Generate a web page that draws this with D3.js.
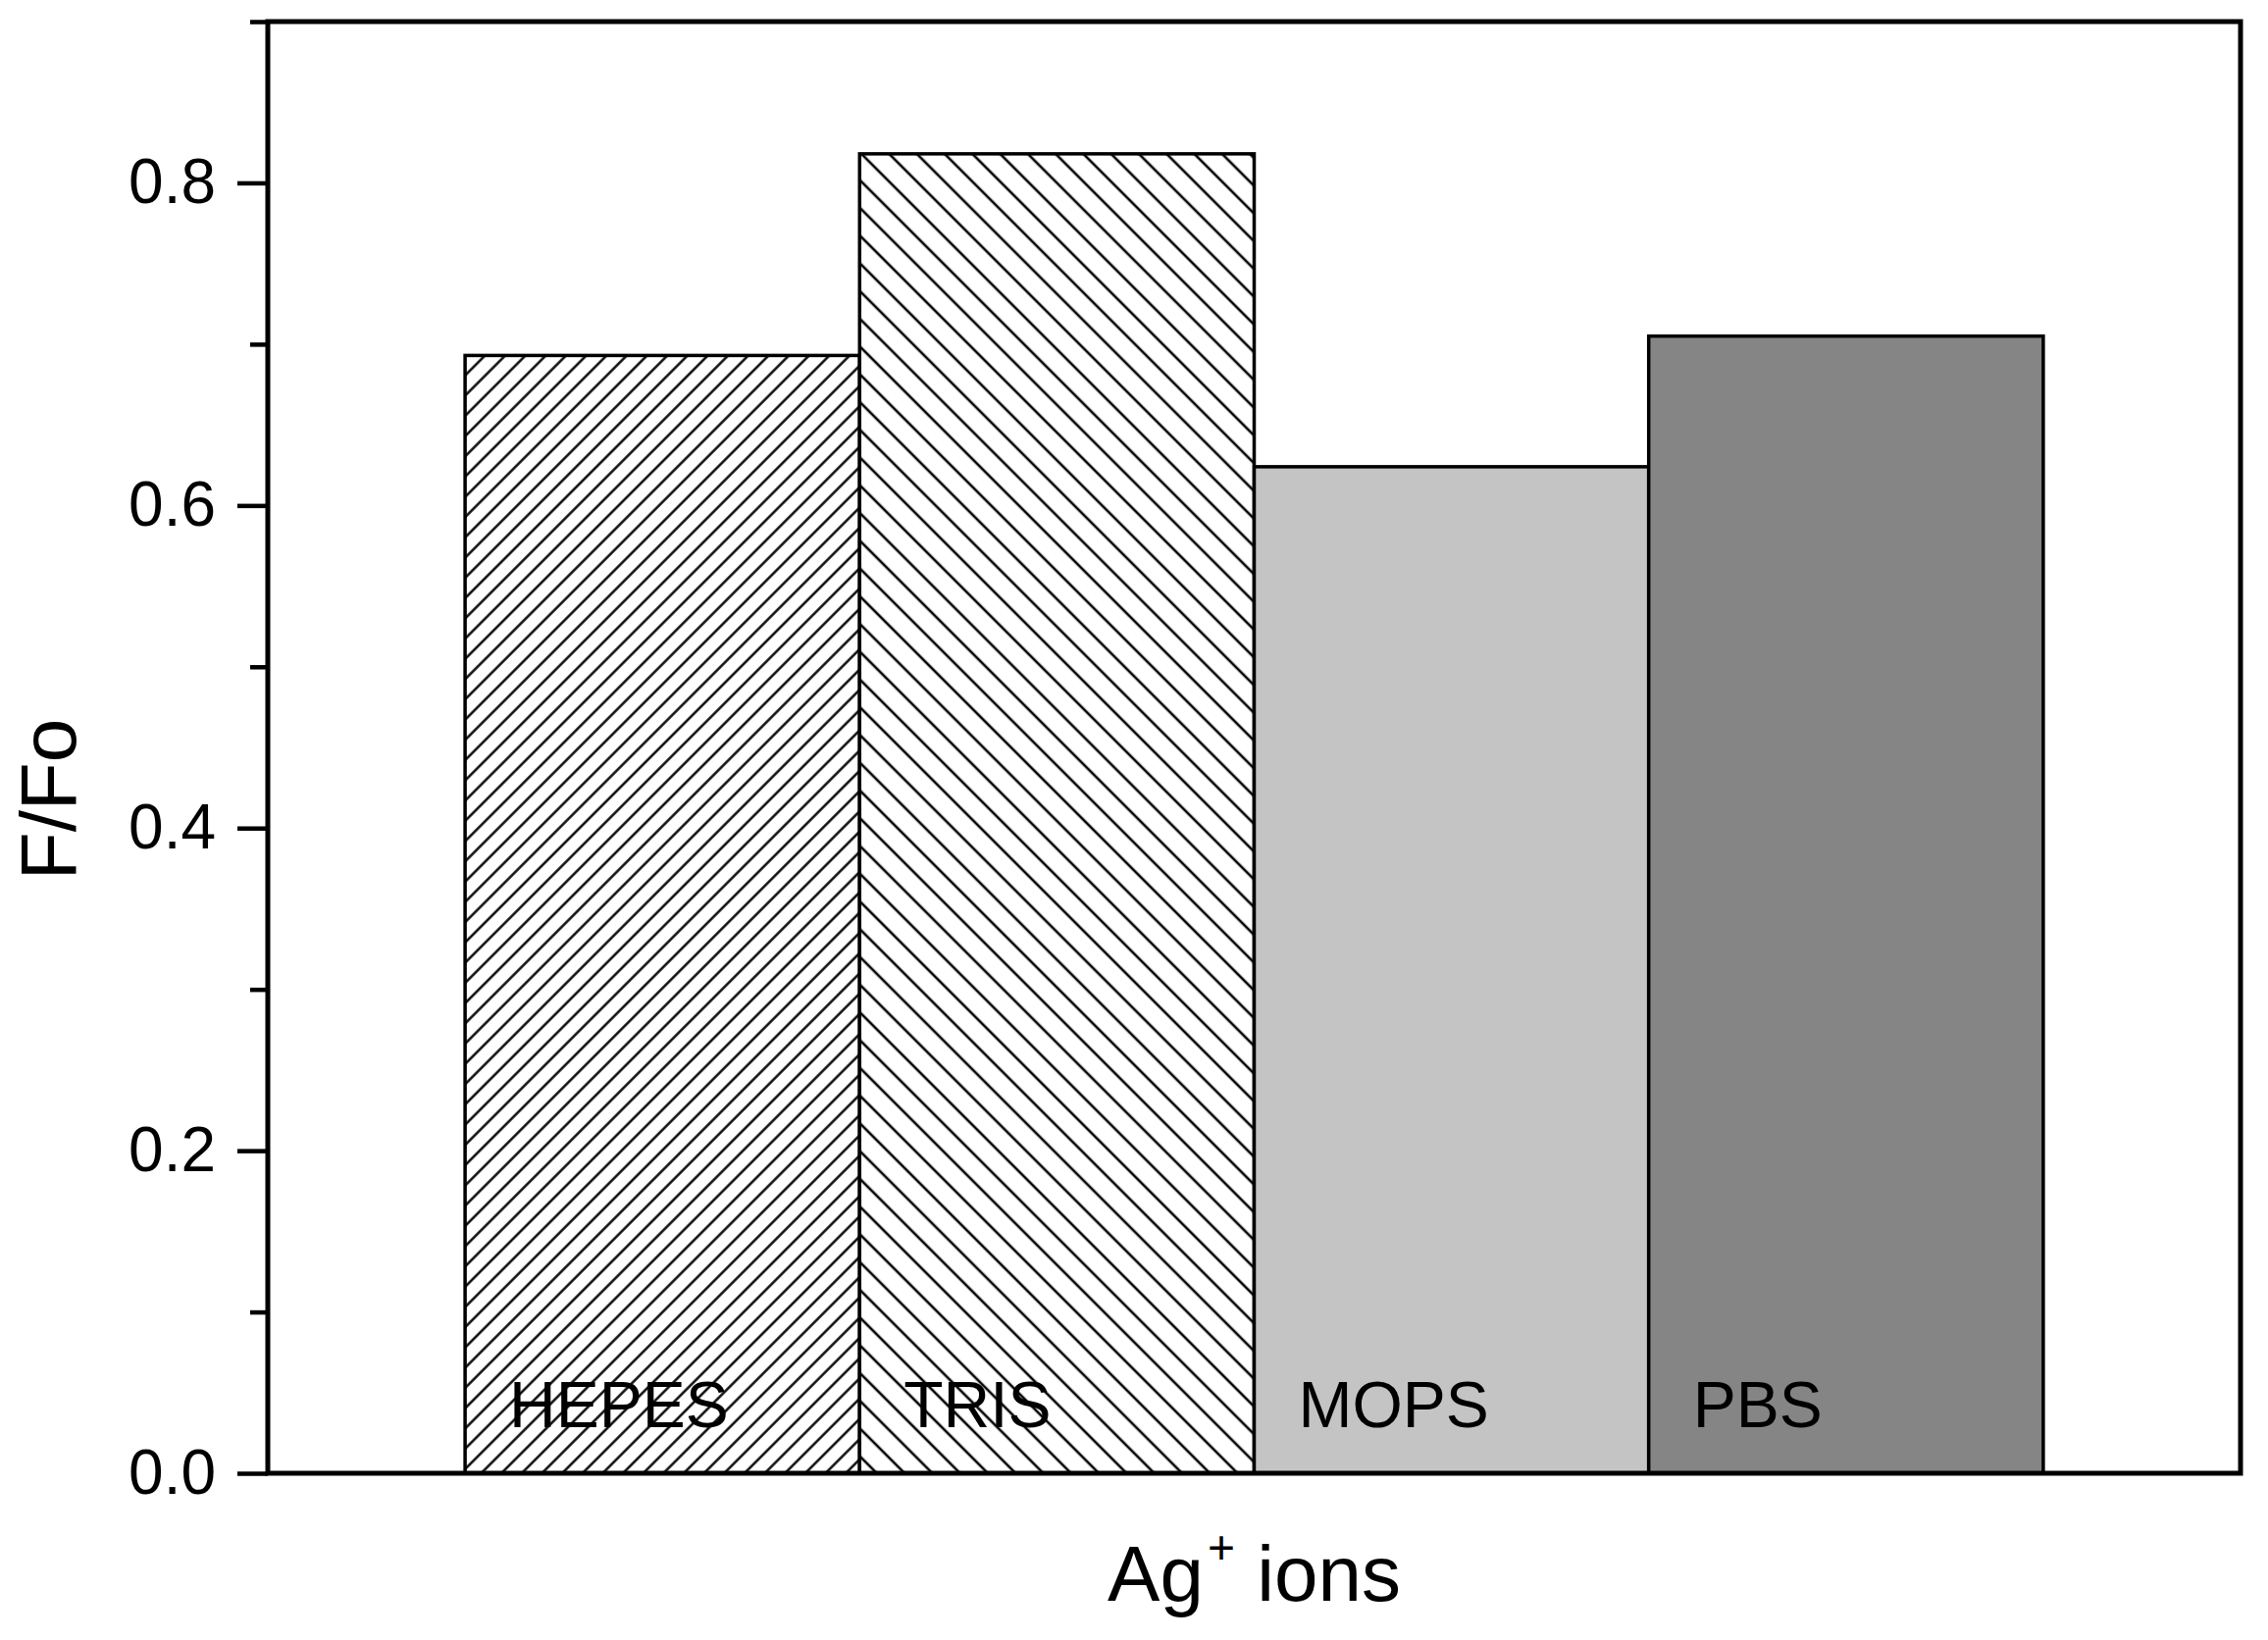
<!DOCTYPE html>
<html>
<head>
<meta charset="utf-8">
<script src="https://cdn.jsdelivr.net/npm/d3@7"></script>
<style>
  html, body { margin: 0; padding: 0; background: #fff; }
  svg { display: block; }
  text { font-family: "Liberation Sans", Arial, Helvetica, sans-serif; fill: #000; }
</style>
</head>
<body>
<svg id="chart" width="2312" height="1672"></svg>
<script>
// ---- data ----
const categories = ["HEPES", "TRIS", "MOPS", "PBS"];
const values = [0.693, 0.818, 0.624, 0.705];
const majorTicks = [0.0, 0.2, 0.4, 0.6, 0.8];
const minorTicks = [0.1, 0.3, 0.5, 0.7, 0.9];
const yLabel = "F/Fo";
const xLabelMain = "Ag";
const xLabelSup = "+";
const xLabelRest = " ions";

// ---- styles ----
const fills = ["url(#hatchFwd)", "url(#hatchBack)", "#c4c4c4", "#858585"];

const W = 2312, H = 1672;
const margin = { left: 273, top: 22, right: 28, bottom: 170 };
const svg = d3.select("#chart");

const x = d3.scaleLinear().domain([0, categories.length + 1]).range([margin.left, W - margin.right]);
const y = d3.scaleLinear().domain([0, 0.9]).range([H - margin.bottom, margin.top]);

// patterns
const defs = svg.append("defs");
function hatch(id, spacing, angle, sw) {
  const p = defs.append("pattern")
    .attr("id", id)
    .attr("patternUnits", "userSpaceOnUse")
    .attr("width", spacing)
    .attr("height", spacing)
    .attr("patternTransform", `rotate(${angle})`);
  p.append("rect").attr("width", spacing).attr("height", spacing).attr("fill", "#fff");
  p.append("line")
    .attr("x1", spacing / 2).attr("y1", -1)
    .attr("x2", spacing / 2).attr("y2", spacing + 1)
    .attr("stroke", "#000").attr("stroke-width", sw);
}
hatch("hatchFwd", 14.6, 45, 2.4);
hatch("hatchBack", 20.0, -45, 2.6);

// bars
const barG = svg.append("g");
barG.selectAll("rect")
  .data(categories)
  .join("rect")
  .attr("x", (d, i) => x(i + 0.5))
  .attr("y", (d, i) => y(values[i]))
  .attr("width", (d, i) => x(i + 1.5) - x(i + 0.5))
  .attr("height", (d, i) => y(0) - y(values[i]))
  .attr("fill", (d, i) => fills[i])
  .attr("stroke", "#000")
  .attr("stroke-width", 3.5);

// bar labels
barG.selectAll("text.lbl")
  .data(categories)
  .join("text")
  .attr("class", "lbl")
  .attr("x", (d, i) => x(i + 0.5) + 45)
  .attr("y", y(0) - 47)
  .attr("font-size", 66)
  .text(d => d);

// frame
svg.append("rect")
  .attr("x", x(0)).attr("y", y(0.9))
  .attr("width", x(categories.length + 1) - x(0))
  .attr("height", y(0) - y(0.9))
  .attr("fill", "none")
  .attr("stroke", "#000")
  .attr("stroke-width", 5);

// y axis major
const yAxis = svg.append("g")
  .attr("transform", `translate(${x(0)},0)`)
  .call(d3.axisLeft(y).tickValues(majorTicks).tickSize(31).tickPadding(22).tickFormat(d3.format(".1f")));
yAxis.select(".domain").remove();
yAxis.selectAll(".tick line").attr("stroke", "#000").attr("stroke-width", 4.5);
yAxis.selectAll(".tick text")
  .attr("font-size", 64)
  .attr("font-family", "'Liberation Sans', Arial, sans-serif")
  .attr("fill", "#000");

// y axis minor
const yMinor = svg.append("g")
  .attr("transform", `translate(${x(0)},0)`)
  .call(d3.axisLeft(y).tickValues(minorTicks).tickSize(18).tickFormat(""));
yMinor.select(".domain").remove();
yMinor.selectAll(".tick line").attr("stroke", "#000").attr("stroke-width", 4.5);

// y label
svg.append("text")
  .attr("transform", `translate(77,815) rotate(-90)`)
  .attr("text-anchor", "middle")
  .attr("font-size", 80)
  .text(yLabel);

// x label
const xl = svg.append("text")
  .attr("x", (x(0) + x(categories.length + 1)) / 2)
  .attr("y", 1632)
  .attr("text-anchor", "middle")
  .attr("font-size", 80);
xl.append("tspan").text(xLabelMain);
xl.append("tspan").attr("font-size", 48).attr("dy", -38).attr("dx", 4).text(xLabelSup);
xl.append("tspan").attr("dy", 38).text(xLabelRest);
</script>
</body>
</html>
